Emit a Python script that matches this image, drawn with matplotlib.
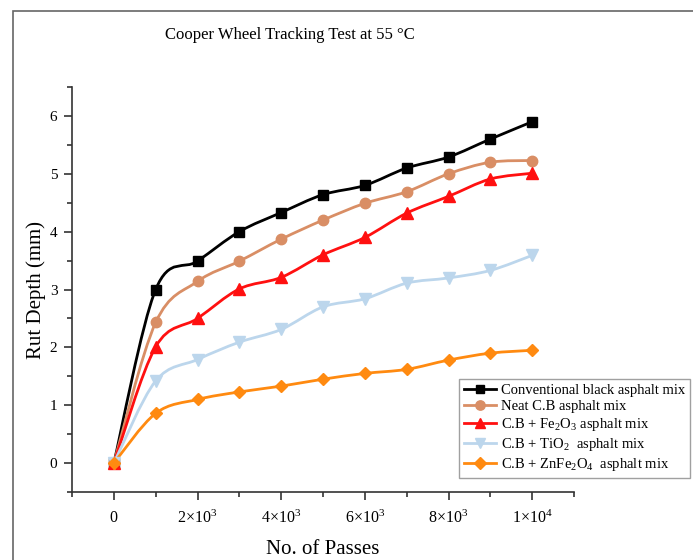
import matplotlib

matplotlib.use("Agg")
import matplotlib.pyplot as plt
import numpy as np
from matplotlib.path import Path
from matplotlib.patches import PathPatch, Rectangle
from matplotlib.lines import Line2D

plt.rcParams["font.family"] = ["Liberation Serif", "DejaVu Serif"]
plt.rcParams["mathtext.fontset"] = "custom"
plt.rcParams["mathtext.rm"] = "Liberation Serif"
plt.rcParams["mathtext.it"] = "Liberation Serif:italic"

# Rut depth (mm) vs number of passes
passes = [0, 1000, 2000, 3000, 4000, 5000, 6000, 7000, 8000, 9000, 10000]
conventional = [0, 3.00, 3.49, 4.00, 4.33, 4.64, 4.80, 5.10, 5.29, 5.60, 5.90]
neat_cb = [0, 2.43, 3.14, 3.49, 3.87, 4.20, 4.49, 4.69, 5.00, 5.20, 5.23]
cb_fe2o3 = [0, 2.01, 2.50, 3.01, 3.21, 3.60, 3.90, 4.32, 4.61, 4.91, 5.01]
cb_tio2 = [0, 1.42, 1.79, 2.09, 2.31, 2.70, 2.84, 3.11, 3.20, 3.33, 3.59]
cb_znfe2o4 = [0, 0.86, 1.10, 1.23, 1.33, 1.45, 1.55, 1.62, 1.78, 1.90, 1.95]

labels = [
    "Conventional black asphalt mix",
    "Neat C.B asphalt mix",
    r"C.B + Fe$_\mathregular{2}$O$_\mathregular{3}$ asphalt mix",
    r"C.B + TiO$_\mathregular{2}$  asphalt mix",
    r"C.B + ZnFe$_\mathregular{2}$O$_\mathregular{4}$  asphalt mix",
]
series = [conventional, neat_cb, cb_fe2o3, cb_tio2, cb_znfe2o4]
colors = ["#000000", "#D98E65", "#FF1010", "#BCD6EC", "#FF8A10"]
markers = ["s", "o", "^", "v", "D"]
msizes = [7, 7.5, 8, 8, 6.5]


def smooth_path(x, y, tension=0.5):
    """Catmull-Rom style cubic Bezier path through the data points."""
    x = np.asarray(x, float)
    y = np.asarray(y, float)
    verts = [(x[0], y[0])]
    codes = [Path.MOVETO]
    n = len(x)
    for i in range(n - 1):
        x0, y0 = (x[i - 1], y[i - 1]) if i > 0 else (x[i], y[i])
        x3, y3 = (x[i + 2], y[i + 2]) if i + 2 < n else (x[i + 1], y[i + 1])
        x1, y1 = x[i], y[i]
        x2, y2 = x[i + 1], y[i + 1]
        c1 = (x1 + (x2 - x0) * tension / 3, y1 + (y2 - y0) * tension / 3)
        c2 = (x2 - (x3 - x1) * tension / 3, y2 - (y3 - y1) * tension / 3)
        verts += [c1, c2, (x2, y2)]
        codes += [Path.CURVE4] * 3
    return Path(verts, codes)


fig = plt.figure(figsize=(6.93, 5.6), dpi=100)
ax = fig.add_axes([0.1039, 0.1214, 0.7244, 0.7232])

for ys, c, m, ms in zip(series, colors, markers, msizes):
    ax.add_patch(
        PathPatch(smooth_path(passes, ys), facecolor="none", edgecolor=c, lw=2, zorder=2)
    )
    ax.plot(passes, ys, ls="none", marker=m, color=c, ms=ms, zorder=3)

ax.set_xlim(-1000, 11000)
ax.set_ylim(-0.5, 6.5)
ax.set_xticks([0, 2000, 4000, 6000, 8000, 10000])
ax.set_xticklabels(
    [
        "0",
        r"2$\times$10$^\mathregular{3}$",
        r"4$\times$10$^\mathregular{3}$",
        r"6$\times$10$^\mathregular{3}$",
        r"8$\times$10$^\mathregular{3}$",
        r"1$\times$10$^\mathregular{4}$",
    ]
)
ax.set_xticks(np.arange(-1000, 11001, 2000), minor=True)
ax.set_yticks(np.arange(0, 7, 1))
ax.set_yticks(np.arange(-0.5, 6.6, 1), minor=True)
ax.tick_params(which="major", direction="out", length=6, width=1.2, color="#333333")
ax.tick_params(which="minor", direction="out", length=3.5, width=1.2, color="#333333")
ax.tick_params(axis="x", labelsize=11.5, pad=7)
ax.tick_params(axis="y", labelsize=11, pad=4.5)

for side in ["top", "right"]:
    ax.spines[side].set_visible(False)
for side in ["left", "bottom"]:
    ax.spines[side].set_linewidth(1.2)
    ax.spines[side].set_color("#333333")

ax.set_xlabel("No. of Passes", fontsize=15, labelpad=9)
ax.set_ylabel("Rut Depth (mm)", fontsize=15, labelpad=3)
fig.text(0.418, 0.937, "Cooper Wheel Tracking Test at 55 °C", ha="center", va="center", fontsize=12)

handles = [
    Line2D([], [], color=c, marker=m, ms=ms * 0.9, lw=2)
    for c, m, ms in zip(colors, markers, msizes)
]
leg = fig.legend(
    handles,
    labels,
    loc="upper right",
    bbox_to_anchor=(690 / 693, 1 - 379 / 560),
    fontsize=10.5,
    frameon=True,
    fancybox=False,
    edgecolor="#888888",
    handlelength=2.2,
    handletextpad=0.3,
    labelspacing=0.2,
    borderpad=0.35,
    borderaxespad=0,
)
leg.get_frame().set_linewidth(1.0)

# thin border around the whole figure
fig.patches.append(
    Rectangle((13 / 693, -0.05), 1.05, 1 - 11 / 560 + 0.05, transform=fig.transFigure,
              fill=False, edgecolor="#666666", lw=1.2)
)

fig.savefig("out.png", dpi=100)
